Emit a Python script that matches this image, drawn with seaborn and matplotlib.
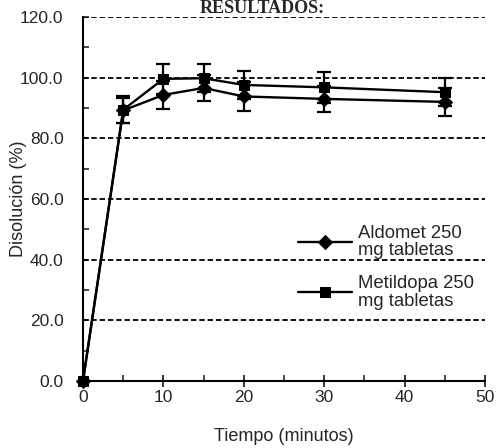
import numpy as np
import pandas as pd
import matplotlib
matplotlib.use('Agg')
import matplotlib.pyplot as plt
from matplotlib.ticker import MultipleLocator
import seaborn as sns

# data
tiempo = [0, 5, 10, 15, 20, 30, 45]
aldomet = [0.0, 89.2, 94.3, 96.6, 93.8, 93.0, 92.0]
aldomet_sd = [0.0, 4.2, 4.6, 4.4, 4.8, 4.4, 4.6]
metildopa = [0.0, 89.4, 99.6, 99.8, 97.6, 96.8, 95.2]
metildopa_sd = [0.0, 4.4, 4.9, 4.6, 4.7, 5.0, 4.6]
series_names = ["Aldomet 250\nmg tabletas", "Metildopa 250\nmg tabletas"]

sns.set_style("white")
plt.rcParams['font.family'] = ['Liberation Sans', 'DejaVu Sans']

df = pd.DataFrame({
    'Tiempo': tiempo * 2,
    'Disolucion': aldomet + metildopa,
    'Producto': [series_names[0]] * len(tiempo) + [series_names[1]] * len(tiempo),
})

fig = plt.figure(figsize=(4.97, 4.48), dpi=100)
ax = fig.add_axes([0.167, 0.1496, 0.809, 0.8125])

for y in [20, 40, 60, 80, 100, 120]:
    ax.axhline(y, color='black', linestyle=(0, (3, 1.6)), linewidth=1.3, zorder=1)

ax.errorbar(tiempo, aldomet, yerr=aldomet_sd, fmt='none', ecolor='black',
            elinewidth=1.6, capsize=5, capthick=1.6, zorder=3)
ax.errorbar(tiempo, metildopa, yerr=metildopa_sd, fmt='none', ecolor='black',
            elinewidth=1.6, capsize=5, capthick=1.6, zorder=3)

sns.lineplot(data=df, x='Tiempo', y='Disolucion', hue='Producto', style='Producto',
             markers={series_names[0]: 'D', series_names[1]: 's'}, dashes=False,
             palette=['black', 'black'], linewidth=1.7, markersize=7,
             markeredgecolor='black', ax=ax, zorder=4, clip_on=False)

ax.set_xlim(0, 50)
ax.set_ylim(0, 120)
ax.xaxis.set_major_locator(MultipleLocator(10))
ax.xaxis.set_minor_locator(MultipleLocator(5))
ax.yaxis.set_major_locator(MultipleLocator(20))
ax.yaxis.set_minor_locator(MultipleLocator(10))
ax.yaxis.set_major_formatter(plt.FuncFormatter(lambda v, p: f"{v:.1f}"))

for s in ['top', 'right']:
    ax.spines[s].set_visible(False)
for s in ['left', 'bottom']:
    ax.spines[s].set_linewidth(1.5)
    ax.spines[s].set_color('black')

ax.tick_params(axis='x', which='major', direction='inout', length=9, width=1.3,
               labelsize=12.5, bottom=True, pad=2)
ax.tick_params(axis='x', which='minor', direction='in', length=4, width=1.2, bottom=True)
ax.tick_params(axis='y', which='major', direction='in', length=4, width=1.2,
               labelsize=12.5, left=True, pad=14)
ax.tick_params(axis='y', which='minor', direction='in', length=4, width=1.2, left=True)

ax.set_xlabel("Tiempo (minutos)", fontsize=13)
ax.xaxis.set_label_coords(0.5, -0.128)
ax.set_ylabel("Disolución (%)", fontsize=13)
ax.yaxis.set_label_coords(-0.139, 0.5)

leg = ax.legend(loc='upper left', bbox_to_anchor=(0.513, 0.455), frameon=False,
                fontsize=13.3, handlelength=2.9, handletextpad=0.3, labelspacing=0.85,
                borderpad=0)
for t in leg.get_texts():
    t.set_linespacing(1.05)

fig.text(0.527, 1.0, "RESULTADOS:", ha='center', va='top', fontsize=13,
         fontweight='bold', family=['Liberation Serif', 'DejaVu Serif'])

fig.savefig('out.png', dpi=100, facecolor='white')
